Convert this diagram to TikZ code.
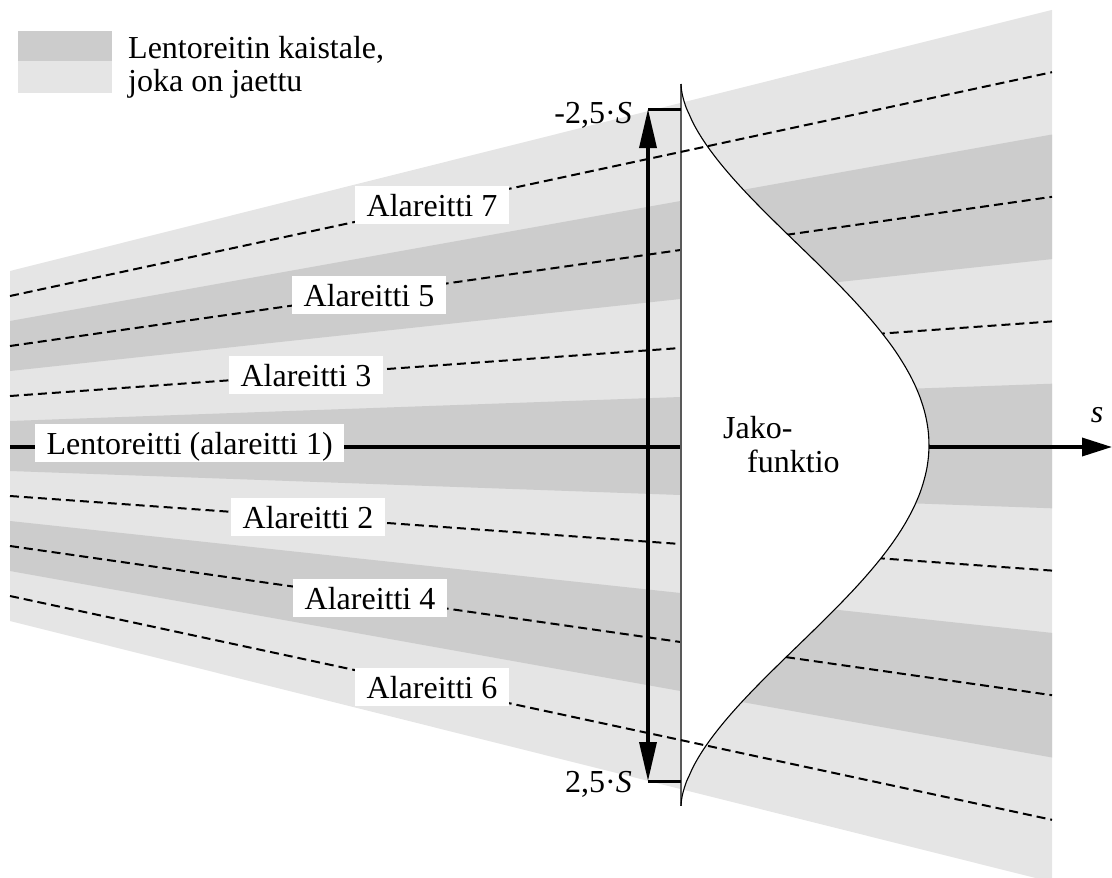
\documentclass[tikz,border=0pt]{standalone}
\usepackage{fontspec}
\setmainfont{Liberation Serif}
\usetikzlibrary{arrows.meta}
\definecolor{banddark}{HTML}{CCCCCC}
\definecolor{bandlight}{HTML}{E5E5E5}
\begin{document}
\begin{tikzpicture}[x=1pt,y=-1pt,
  font=\fontsize{32}{33}\selectfont,
  route/.style={line width=2pt, dash pattern=on 9pt off 5pt},
  lab/.style={fill=white, inner xsep=11.5pt, inner ysep=1.5pt, text height=29pt, text depth=6pt},
  axisline/.style={line width=3.5pt, -{Triangle[length=30pt,width=18pt]}},
  dblarrow/.style={line width=3.5pt, {Triangle[length=39pt,width=17pt]}-{Triangle[length=39pt,width=17pt]}},
  tickline/.style={line width=3pt},
  txt/.style={inner sep=0pt, anchor=base west},
  funcfill/.style={fill=white},
  funcedge/.style={line width=1.1pt, black!65},
  funccurve/.style={line width=1.1pt, black},
  gauss/.style={smooth, samples=121, domain=-1:1, variable=\t},
]
\useasboundingbox (0,0) rectangle (1112,878);

% bands
\fill[bandlight] (10,271) -- (1052,9.9) -- (1052,882.1) -- (10,621) -- cycle;
\fill[banddark] (10,321) -- (1052,134.5) -- (1052,259.1) -- (10,371) -- cycle;
\fill[banddark] (10,421) -- (1052,383.7) -- (1052,508.3) -- (10,471) -- cycle;
\fill[banddark] (10,521) -- (1052,632.9) -- (1052,757.5) -- (10,571) -- cycle;

% route end points
\coordinate (l7) at (10,296);   \coordinate (r7) at (1052,72.2);
\coordinate (l5) at (10,346);   \coordinate (r5) at (1052,196.8);
\coordinate (l3) at (10,396);   \coordinate (r3) at (1052,321.4);
\coordinate (l1) at (10,447);   \coordinate (r1) at (1112,447);
\coordinate (l2) at (10,496);   \coordinate (r2) at (1052,570.6);
\coordinate (l4) at (10,546);   \coordinate (r4) at (1052,695.2);
\coordinate (l6) at (10,596);   \coordinate (r6) at (1052,819.8);

% inner sub-routes (hidden under the distribution function)
\draw[route] (l5) -- node[lab, pos=0.3445] (a5) {Alareitti 5} (r5);
\draw[route] (l3) -- node[lab, pos=0.284] (a3) {Alareitti 3} (r3);
\draw[route] (l2) -- node[lab, pos=0.286] (a2) {Alareitti 2} (r2);
\draw[route] (l4) -- node[lab, pos=0.3455] (a4) {Alareitti 4} (r4);

% flight route axis
\draw[axisline] (l1) -- node[lab, pos=0.163, yshift=4pt] (a1) {Lentoreitti (alareitti 1)} (r1);

% distribution function
\coordinate (ftop) at (681,84);
\coordinate (fbot) at (681,806);
\fill[funcfill] plot[gauss] ({681+248*(max(cos(90*\t),0.0001))^1.7},{445+361*\t}) -- cycle;
\draw[funcedge] (ftop) -- (fbot);
\draw[funccurve] plot[gauss] ({681+248*(max(cos(90*\t),0.0001))^1.7},{445+361*\t});
\node[txt] (jako1) at (723,438) {Jako-};
\node[txt] (jako2) at (747,472) {funktio};

% outer sub-routes
\draw[route] (l7) -- node[lab, pos=0.405] (a7) {Alareitti 7} (r7);
\draw[route] (l6) -- node[lab, pos=0.405] (a6) {Alareitti 6} (r6);

% 2.5 S arrow
\coordinate (atop) at (648,109);
\coordinate (abot) at (648,781);
\coordinate (ttop) at (681,109);
\coordinate (tbot) at (681,781);
\draw[dblarrow] (abot) -- (atop);
\draw[tickline] (atop) -- (ttop);
\draw[tickline] (abot) -- (tbot);
\node[txt, anchor=base east] (stop) at (632,123) {-2,5·\textit{S}};
\node[txt, anchor=base east] (sbot) at (632,792) {2,5·\textit{S}};

% axis label
\node[txt, anchor=base] (slab) at (1097,422) {\textit{s}};

% legend
\fill[banddark] (18,31) rectangle (112,61);
\fill[bandlight] (18,61) rectangle (112,93);
\node[txt] (leg1) at (128,58) {Lentoreitin kaistale,};
\node[txt] (leg2) at (128,91) {joka on jaettu};
\end{tikzpicture}
\end{document}
